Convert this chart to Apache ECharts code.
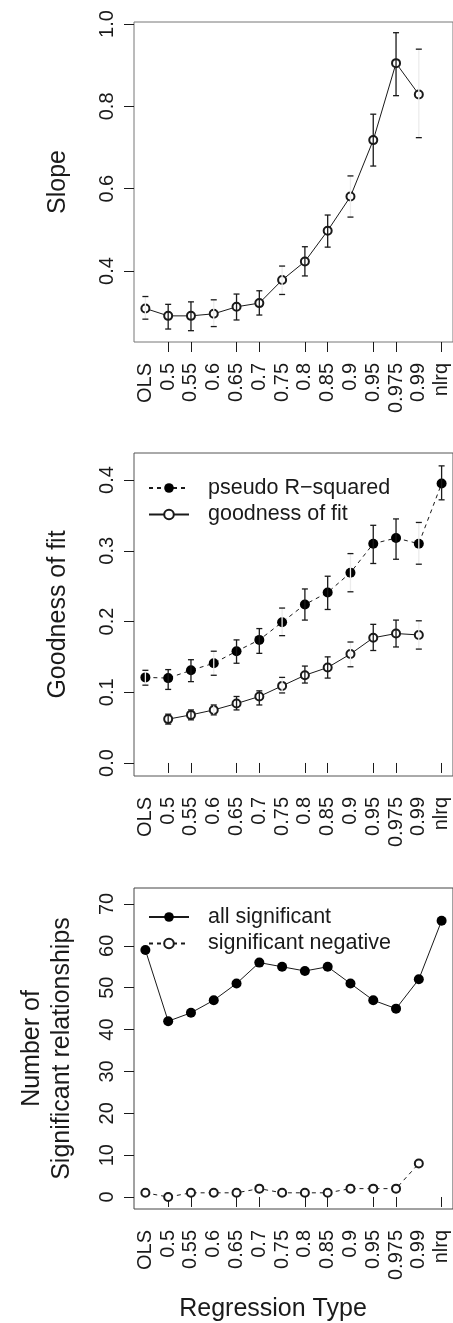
<!DOCTYPE html>
<html><head><meta charset="utf-8">
<script src="https://cdn.jsdelivr.net/npm/echarts@6/dist/echarts.min.js"></script>
<style>html,body{margin:0;padding:0;background:#fff}#chart{width:453px;height:1323px}</style>
</head><body><div id="chart"></div>
<script>
// ---- data ----
const categories = ['OLS','0.5','0.55','0.6','0.65','0.7','0.75','0.8','0.85','0.9','0.95','0.975','0.99','nlrq'];
const tickedCategories = ['0.5','0.55','0.65','0.7','0.8','0.85','0.95','0.975','nlrq'];

const slope   = [0.309,0.291,0.291,0.296,0.313,0.322,0.378,0.423,0.498,0.581,0.718,0.905,0.829,null];
const slopeLo = [0.283,0.259,0.255,0.265,0.281,0.293,0.343,0.388,0.458,0.531,0.655,0.826,0.724,null];
const slopeHi = [0.338,0.319,0.325,0.330,0.344,0.352,0.412,0.459,0.536,0.631,0.781,0.979,0.939,null];

const pseudoR2   = [0.121,0.120,0.131,0.141,0.158,0.174,0.199,0.224,0.241,0.269,0.310,0.318,0.310,0.395];
const pseudoR2Lo = [0.110,0.104,0.115,0.124,0.141,0.155,0.180,0.202,0.217,0.242,0.282,0.288,0.281,0.372];
const pseudoR2Hi = [0.131,0.132,0.146,0.158,0.174,0.190,0.219,0.246,0.264,0.296,0.336,0.345,0.340,0.420];

const goodness   = [null,0.062,0.068,0.075,0.084,0.094,0.109,0.124,0.135,0.154,0.177,0.183,0.181,null];
const goodnessLo = [null,0.055,0.061,0.068,0.075,0.082,0.099,0.113,0.120,0.136,0.159,0.164,0.161,null];
const goodnessHi = [null,0.069,0.075,0.082,0.094,0.102,0.121,0.137,0.150,0.171,0.196,0.202,0.201,null];

const allSignificant = [59,42,44,47,51,56,55,54,55,51,47,45,52,66];
const sigNegative    = [1,0,1,1,1,2,1,1,1,2,2,2,8,null];

const slopeTicks = [0.4,0.6,0.8,1.0];
const gofTicks = [0.0,0.1,0.2,0.3,0.4];
const countTicks = [0,10,20,30,40,50,60,70];

// ---- chart ----
const FONT = 'Liberation Sans, Arial, Helvetica, sans-serif';
const INK = '#1a1a1a';
const chart = echarts.init(document.getElementById('chart'), null, {renderer:'canvas'});

function errData(lo, hi) {
  const out = [];
  for (let i = 0; i < categories.length; i++) {
    if (lo[i] != null && hi[i] != null) out.push([i, lo[i], hi[i]]);
  }
  return out;
}
function errSeries(idx, lo, hi) {
  return {
    type:'custom', xAxisIndex:idx, yAxisIndex:idx, z:5, silent:true,
    data: errData(lo, hi),
    encode:{x:0, y:[1,2]},
    renderItem: function (params, api) {
      const i = api.value(0);
      const a = api.coord([i, api.value(1)]);
      const b = api.coord([i, api.value(2)]);
      const hw = 3;
      const faint = !tickedCategories.includes(categories[i]);
      const st = {stroke: INK, lineWidth: 1.3};
      return {type:'group', children:[
        {type:'line', shape:{x1:a[0], y1:a[1], x2:b[0], y2:b[1]}, style:{stroke: faint ? '#ececec' : INK, lineWidth:1.3}},
        {type:'line', shape:{x1:a[0]-hw, y1:a[1], x2:a[0]+hw, y2:a[1]}, style:st},
        {type:'line', shape:{x1:b[0]-hw, y1:b[1], x2:b[0]+hw, y2:b[1]}, style:st}
      ]};
    }
  };
}
function xAxisFor(i) {
  return {
    type:'category', gridIndex:i, data:categories, boundaryGap:true,
    axisLine:{show:false}, splitLine:{show:false},
    axisTick:{show:true, alignWithLabel:true, length:10,
      interval:function (idx, val) { return tickedCategories.includes(val); },
      lineStyle:{color:INK, width:1}},
    axisLabel:{interval:0, rotate:90, margin:21, fontSize:20, fontFamily:FONT, color:INK}
  };
}
function yAxisFor(i, min, max, ticks, fmt, name, gap) {
  return {
    type:'value', gridIndex:i, min:min, max:max,
    axisLine:{show:false}, splitLine:{show:false},
    axisTick:{show:true, length:10, customValues:ticks, lineStyle:{color:INK, width:1}},
    axisLabel:{rotate:90, margin:17, customValues:ticks, formatter:fmt, fontSize:20, fontFamily:FONT, color:INK},
    name:name, nameLocation:'middle', nameRotate:90, nameGap:gap,
    nameTextStyle:{fontSize:25, fontFamily:FONT, color:INK, lineHeight:30}
  };
}
const legendBase = {
  orient:'vertical', itemWidth:40, itemHeight:12, itemGap:4.5, padding:0,
  selectedMode:false,
  textStyle:{fontSize:21.5, lineHeight:22, fontFamily:FONT, color:INK, padding:[0,0,0,14]}
};

const option = {
  animation:false,
  backgroundColor:'#fff',
  grid:[
    {left:134, top:22, width:319, height:320, show:true, borderColor:'#777', borderWidth:1, outerBoundsMode:'none'},
    {left:134, top:453, width:319, height:323, show:true, borderColor:'#555', borderWidth:1, outerBoundsMode:'none'},
    {left:134, top:888, width:319, height:321, show:true, borderColor:'#444', borderWidth:1, outerBoundsMode:'none'}
  ],
  xAxis:[xAxisFor(0), xAxisFor(1), xAxisFor(2)],
  yAxis:[
    yAxisFor(0, 0.2275, 1.005, slopeTicks, v => v.toFixed(1), 'Slope', 61),
    yAxisFor(1, -0.0184, 0.4382, gofTicks, v => v.toFixed(1), 'Goodness of fit', 61),
    yAxisFor(2, -2.867, 73.82, countTicks, v => String(v), 'Number of\nSignificant relationships', 57)
  ],
  legend:[
    Object.assign({}, legendBase, {left:148, top:477, data:['pseudo R\u2212squared','goodness of fit']}),
    Object.assign({}, legendBase, {left:148, top:906, data:['all significant','significant negative']})
  ],
  graphic:[
    {type:'text', x:273, y:1309, style:{text:'Regression Type', font:'25px ' + FONT, fill:INK, align:'center', verticalAlign:'middle'}}
  ],
  series:[
    {name:'Slope', type:'line', xAxisIndex:0, yAxisIndex:0, data:slope,
     symbol:'emptyCircle', symbolSize:8, z:3,
     lineStyle:{color:INK, width:1}, itemStyle:{color:INK, borderWidth:1}},
    errSeries(0, slopeLo, slopeHi),

    {name:'pseudo R\u2212squared', type:'line', xAxisIndex:1, yAxisIndex:1, data:pseudoR2,
     symbol:'circle', symbolSize:10, z:3,
     lineStyle:{color:INK, width:1, type:[4,4]}, itemStyle:{color:'#000'}},
    {name:'goodness of fit', type:'line', xAxisIndex:1, yAxisIndex:1, data:goodness,
     symbol:'emptyCircle', symbolSize:8, z:3,
     lineStyle:{color:INK, width:1}, itemStyle:{color:INK, borderWidth:1}},
    errSeries(1, pseudoR2Lo, pseudoR2Hi),
    errSeries(1, goodnessLo, goodnessHi),

    {name:'all significant', type:'line', xAxisIndex:2, yAxisIndex:2, data:allSignificant,
     symbol:'circle', symbolSize:10, z:3,
     lineStyle:{color:INK, width:1}, itemStyle:{color:'#000'}},
    {name:'significant negative', type:'line', xAxisIndex:2, yAxisIndex:2, data:sigNegative,
     symbol:'emptyCircle', symbolSize:8, z:3,
     lineStyle:{color:INK, width:1, type:[4,4]}, itemStyle:{color:INK, borderWidth:1}}
  ]
};
chart.setOption(option);
</script>
</body></html>
